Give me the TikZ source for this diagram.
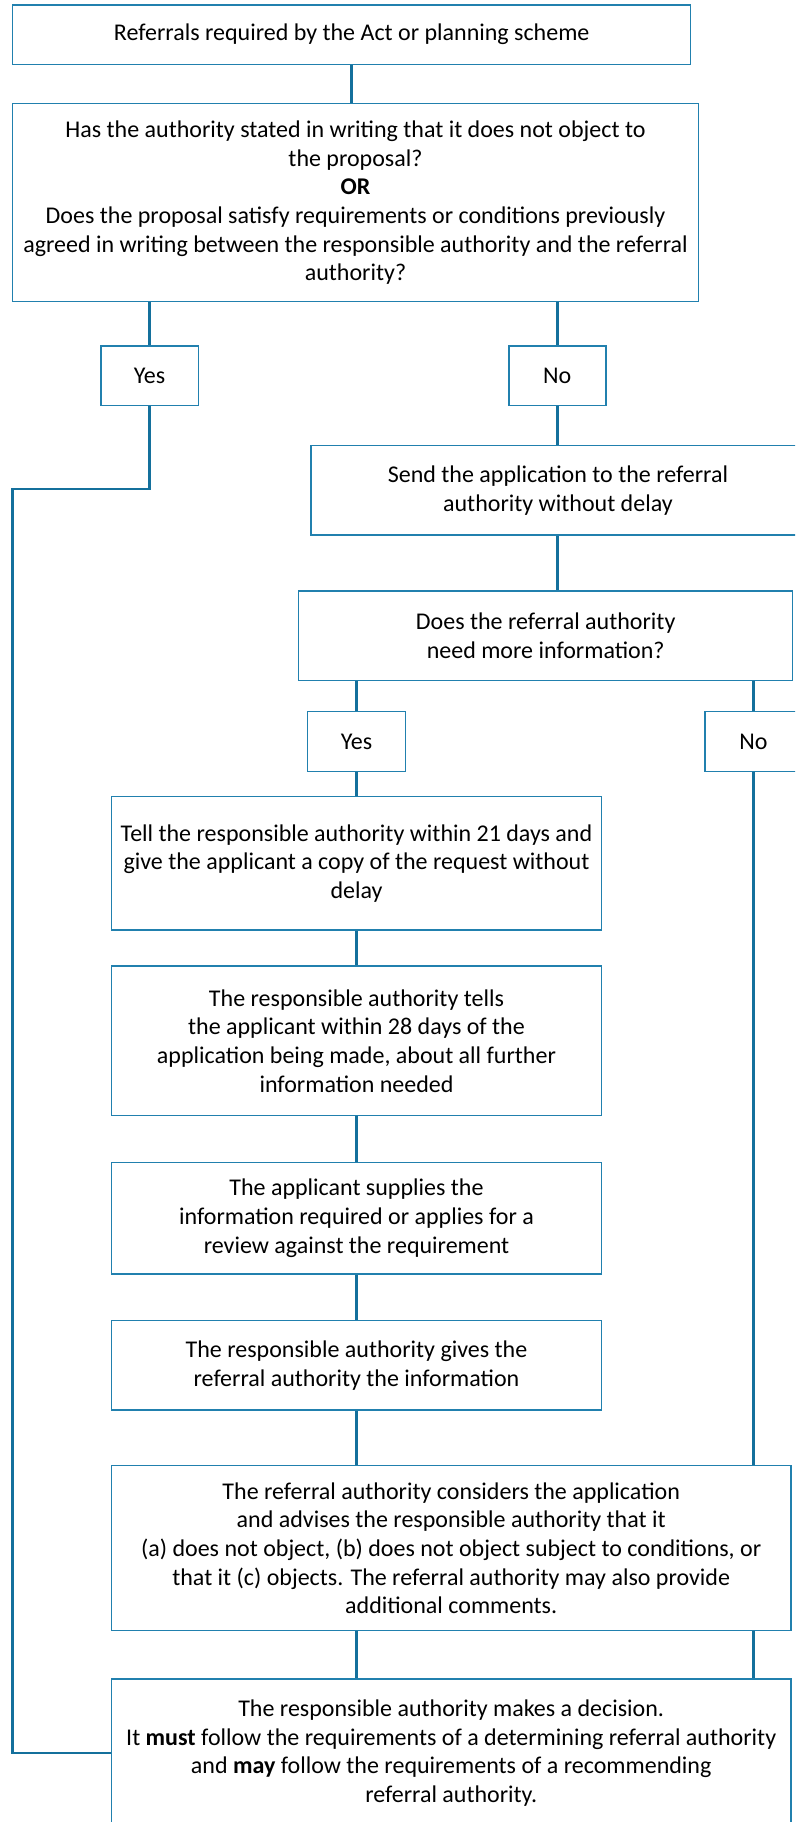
\documentclass[tikz,border=0pt]{standalone}
\usepackage{fontspec}
\setmainfont{Carlito}
\definecolor{linec}{HTML}{14709C}
\definecolor{boxc}{HTML}{2180AE}
\begin{document}
\begin{tikzpicture}[x=1pt,y=-1pt,
  box/.style={draw=boxc, line width=1.5pt, rectangle, inner sep=0pt, align=center,
    font=\fontsize{24}{28.7}\selectfont, text=black},
  conn/.style={draw=linec, line width=2.6pt}]
\useasboundingbox (0,0) rectangle (795,1822);
\clip (0,0) rectangle (795,1822);
\fill[white] (0,0) rectangle (795,1822);

\node[box, minimum width=678pt, minimum height=59.3pt] (b1) at (351.7,34.65)
  {Referrals required by the Act or planning scheme};
\node[box, minimum width=685.6pt, minimum height=198pt] (b2) at (355.5,202.7)
  {Has the authority stated in writing that it does not object to\\ the proposal?\\ \textbf{OR}\\
   Does the proposal satisfy requirements or conditions previously\\ agreed in writing between the responsible authority and the referral\\ authority?};
\node[box, minimum width=97.4pt, minimum height=59.7pt] (yes1) at (149.6,375.85) {Yes};
\node[box, minimum width=96.9pt, minimum height=59.7pt] (no1) at (557.3,375.85) {No};
\node[box, minimum width=494pt, minimum height=89.3pt] (send) at (557.95,490.35)
  {Send the application to the referral\\ authority without delay};
\node[box, minimum width=493.9pt, minimum height=89.3pt] (does) at (545.65,635.65)
  {Does the referral authority\\ need more information?};
\node[box, minimum width=97.9pt, minimum height=59.6pt] (yes2) at (356.5,741.5) {Yes};
\node[box, minimum width=97.2pt, minimum height=59.6pt] (no2) at (753.5,741.5) {No};
\node[box, minimum width=489.8pt, minimum height=133.3pt] (tell) at (356.5,863.35)
  {Tell the responsible authority within 21 days and\\ give the applicant a copy of the request without\\ delay};
\node[box, minimum width=489.8pt, minimum height=149.7pt] (tells) at (356.5,1040.85)
  {The responsible authority tells\\ the applicant within 28 days of the\\ application being made, about all further\\ information needed};
\node[box, minimum width=489.8pt, minimum height=111.7pt] (supp) at (356.5,1218.15)
  {The applicant supplies the\\ information required or applies for a\\ review against the requirement};
\node[box, minimum width=489.8pt, minimum height=89.3pt] (gives) at (356.5,1365.35)
  {The responsible authority gives the\\ referral authority the information};
\node[box, minimum width=679.2pt, minimum height=165pt] (cons) at (451.2,1548.2)
  {The referral authority considers the application\\ and advises the responsible authority that it\\
   (a) does not object, (b) does not object subject to conditions, or\\ that it (c) objects. The referral authority may also provide\\ additional comments.};
\node[box, minimum width=679.2pt, minimum height=148pt] (dec) at (451.2,1753)
  {The responsible authority makes a decision.\\ It \textbf{must} follow the requirements of a determining referral authority\\
   and \textbf{may} follow the requirements of a recommending\\ referral authority.};

\coordinate (lft) at (12.5,489);

\draw[conn] (b1.south) -- (b1.south |- b2.north);
\draw[conn] (yes1.north |- b2.south) -- (yes1.north);
\draw[conn] (no1.north |- b2.south) -- (no1.north);
\draw[conn] (no1.south) -- (no1.south |- send.north);
\draw[conn] (no1.south |- send.south) -- (no1.south |- does.north);
\draw[conn] (yes2.north |- does.south) -- (yes2.north);
\draw[conn] (no2.north |- does.south) -- (no2.north);
\draw[conn] (yes2.south) -- (yes2.south |- tell.north);
\draw[conn] (tell.south) -- (tells.north);
\draw[conn] (tells.south) -- (supp.north);
\draw[conn] (supp.south) -- (gives.north);
\draw[conn] (gives.south) -- (gives.south |- cons.north);
\draw[conn] (no2.south) -- (no2.south |- cons.north);
\draw[conn] (gives.south |- cons.south) -- (gives.south |- dec.north);
\draw[conn] (no2.south |- cons.south) -- (no2.south |- dec.north);
\draw[conn] (yes1.south) |- (lft) |- (dec.west);
\end{tikzpicture}
\end{document}
